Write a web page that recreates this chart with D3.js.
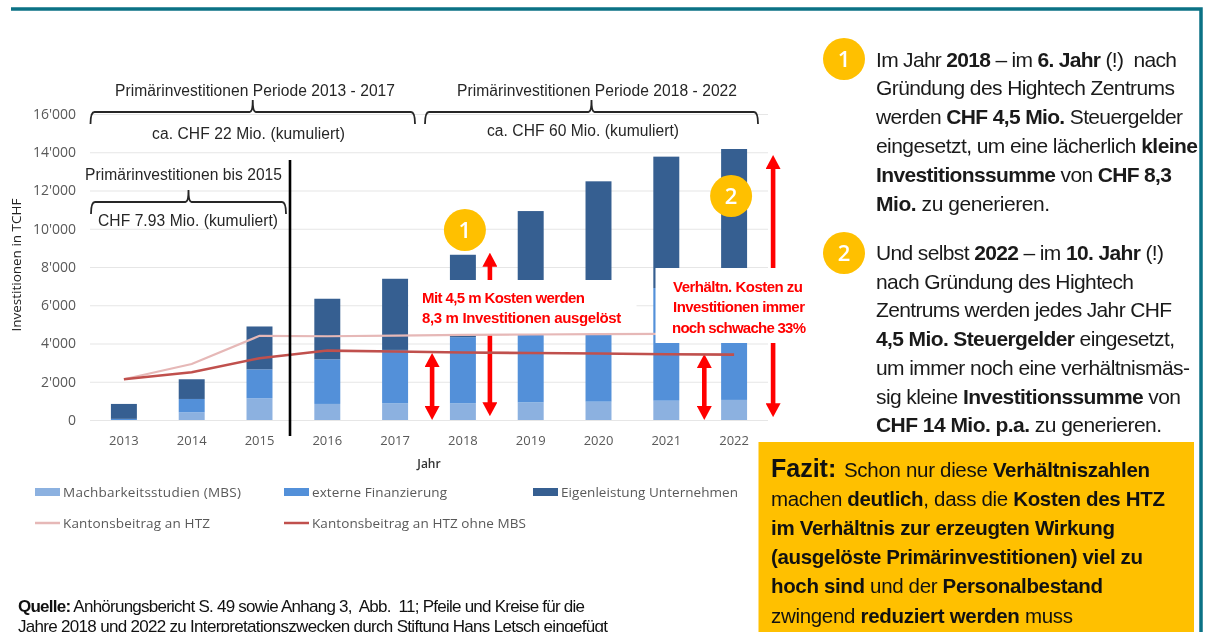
<!DOCTYPE html>
<html>
<head>
<meta charset="utf-8">
<script src="https://cdn.jsdelivr.net/npm/d3@7"></script>
<style>
  html, body { margin: 0; padding: 0; background: #fff; overflow: hidden; }
  svg { display: block; filter: blur(0.4px); }
  text { font-family: "Liberation Sans", Arial, sans-serif; }
  .tick text, .chart-label { font-family: "Open Sans", sans-serif; }
</style>
</head>
<body>
<svg width="1208" height="632"></svg>
<script>
const years = [2013, 2014, 2015, 2016, 2017, 2018, 2019, 2020, 2021, 2022]
const machbarkeit = [0, 400, 1135, 840, 870, 870, 925, 960, 1010, 1050]
const extern = [60, 700, 1515, 2335, 2795, 3460, 4600, 5300, 5890, 6100]
const eigenleistung = [780, 1030, 2240, 3165, 3720, 4310, 5400, 6220, 6870, 7020]
const kanton = [2130, 2930, 4400, 4380, 4415, 4450, 4470, 4490, 4500, 4500]
const kantonOhneMbs = [2130, 2500, 3230, 3630, 3580, 3530, 3500, 3480, 3440, 3420]
const yTicks = [0, 2000, 4000, 6000, 8000, 10000, 12000, 14000, 16000]

const stackKeys = ['Machbarkeitsstudien (MBS)', 'externe Finanzierung', 'Eigenleistung Unternehmen']
const stackColors = ['#8CB1E0', '#5390D9', '#365F91']
const lineKeys = ['Kantonsbeitrag an HTZ', 'Kantonsbeitrag an HTZ ohne MBS']
const lineColors = ['#E6B8B7', '#C0504D']

// right hand text, each line is a list of [text, bold]
const block1 = [
  [['Im Jahr ', 0], ['2018', 1], [' – im ', 0], ['6. Jahr', 1], [' (!)  nach', 0]],
  [['Gründung des Hightech Zentrums', 0]],
  [['werden ', 0], ['CHF 4,5 Mio.', 1], [' Steuergelder', 0]],
  [['eingesetzt, um eine lächerlich ', 0], ['kleine', 1]],
  [['Investitionssumme', 1], [' von ', 0], ['CHF 8,3', 1]],
  [['Mio.', 1], [' zu generieren.', 0]]
]
const block1Ends = [1177, 1175, 1183, 1198, 1172, 1050]
const block2 = [
  [['Und selbst ', 0], ['2022', 1], [' – im ', 0], ['10. Jahr', 1], [' (!)', 0]],
  [['nach Gründung des Hightech', 0]],
  [['Zentrums werden jedes Jahr CHF', 0]],
  [['4,5 Mio. Steuergelder', 1], [' eingesetzt,', 0]],
  [['um immer noch eine verhältnismäs-', 0]],
  [['sig kleine ', 0], ['Investitionssumme', 1], [' von', 0]],
  [['CHF 14 Mio. p.a.', 1], [' zu generieren.', 0]]
]
const block2Ends = [1164, 1134, 1172, 1175, 1190, 1181, 1162]
const fazit = [
  [['Schon nur diese ', 0], ['Verhältniszahlen', 1]],
  [['machen ', 0], ['deutlich', 1], [', dass die ', 0], ['Kosten des HTZ', 1]],
  [['im Verhältnis zur erzeugten Wirkung', 1]],
  [['(ausgelöste Primärinvestitionen) viel zu', 1]],
  [['hoch sind', 1], [' und der ', 0], ['Personalbestand', 1]],
  [['zwingend ', 0], ['reduziert werden', 1], [' muss', 0]]
]
const fazitEnds = [1150, 1165, 1115, 1143, 1103, 1073]
const quelle = [
  [['Quelle:', 1], [' Anhörungsbericht S. 49 sowie Anhang 3,  Abb.  11; Pfeile und Kreise für die', 0]],
  [['Jahre 2018 und 2022 zu Interpretationszwecken durch Stiftung Hans Letsch eingefügt', 0]]
]

const svg = d3.select('svg')

const margin = { top: 114, left: 90, right: 440, bottom: 212 }
const width = +svg.attr('width')
const height = +svg.attr('height')

const xScale = d3.scaleBand()
  .domain(years)
  .range([margin.left, width - margin.right])
  .paddingInner(0.617)
  .paddingOuter(0.3085)

const yScale = d3.scaleLinear()
  .domain([0, 16000])
  .range([height - margin.bottom, margin.top])

const xMid = d => xScale(d) + xScale.bandwidth() / 2
const yFormat = d3.formatLocale({ decimal: '.', thousands: "'", grouping: [3], currency: ['', ''] }).format(',d')

// frame
svg.append('path')
  .attr('d', 'M11,9 H1201 V632')
  .attr('fill', 'none')
  .attr('stroke', '#0B7285')
  .attr('stroke-width', 3.5)

// axes
const yAxis = d3.axisLeft(yScale)
  .tickValues(yTicks)
  .tickFormat(yFormat)
  .tickSize(-(width - margin.left - margin.right))
  .tickPadding(14)

const yAxisGroup = svg.append('g')
  .attr('transform', `translate(${margin.left},0)`)
  .call(yAxis)
yAxisGroup.select('.domain').remove()
yAxisGroup.selectAll('.tick line').attr('stroke', '#E6E6E6').attr('stroke-width', 1.2)
yAxisGroup.selectAll('.tick text').attr('font-size', 14).attr('fill', '#595959')

const xAxisGroup = svg.append('g')
  .attr('transform', `translate(0,${yScale(0)})`)
  .call(d3.axisBottom(xScale).tickSize(0).tickPadding(16))
xAxisGroup.select('.domain').remove()
xAxisGroup.selectAll('.tick text').attr('font-size', 13).attr('fill', '#595959')

svg.append('text')
  .attr('class', 'chart-label')
  .attr('transform', `translate(21,${yScale(8100)}) rotate(-90)`)
  .attr('text-anchor', 'middle')
  .attr('font-size', 13.5)
  .attr('fill', '#222')
  .text('Investitionen in TCHF')

svg.append('text')
  .attr('class', 'chart-label')
  .attr('x', 429)
  .attr('y', 468)
  .attr('text-anchor', 'middle')
  .attr('font-size', 12)
  .attr('font-weight', 600)
  .attr('fill', '#333')
  .text('Jahr')

// stacked bars
const rows = years.map((year, i) => ({
  year,
  [stackKeys[0]]: machbarkeit[i],
  [stackKeys[1]]: extern[i],
  [stackKeys[2]]: eigenleistung[i]
}))
const series = d3.stack().keys(stackKeys)(rows)

svg.append('g').selectAll('g').data(series)
  .enter().append('g')
  .attr('fill', (d, i) => stackColors[i])
  .selectAll('rect').data(d => d)
  .enter().append('rect')
  .attr('x', d => xScale(d.data.year))
  .attr('y', d => yScale(d[1]))
  .attr('width', xScale.bandwidth())
  .attr('height', d => yScale(d[0]) - yScale(d[1]))

// red arrows
svg.append('defs').append('marker')
  .attr('id', 'head')
  .attr('viewBox', '0 0 14 15')
  .attr('refX', 2)
  .attr('refY', 7.5)
  .attr('markerWidth', 14)
  .attr('markerHeight', 15)
  .attr('markerUnits', 'userSpaceOnUse')
  .attr('orient', 'auto-start-reverse')
  .append('path')
  .attr('d', 'M0,0 L14,7.5 L0,15 Z')
  .attr('fill', '#FF0000')

const arrows = [
  { x: xMid(2017) + 37, from: 0, to: 3500 },
  { x: xMid(2018) + 27, from: 200, to: 8750 },
  { x: xMid(2021) + 38, from: 0, to: 3450 },
  { x: xMid(2022) + 39, from: 150, to: 13850 }
]
svg.append('g').selectAll('line').data(arrows)
  .enter().append('line')
  .attr('x1', d => d.x)
  .attr('x2', d => d.x)
  .attr('y1', d => yScale(d.from) - 12)
  .attr('y2', d => yScale(d.to) + 12)
  .attr('stroke', '#FF0000')
  .attr('stroke-width', 4.6)
  .attr('marker-start', 'url(#head)')
  .attr('marker-end', 'url(#head)')

// box over the bars for the first note
svg.append('rect').attr('x', 408.5).attr('y', 280).attr('width', 228).attr('height', 55).attr('fill', '#fff')

// lines
const lineGen = d3.line().x((d, i) => xMid(years[i])).y(d => yScale(d))
svg.append('g').selectAll('path').data([kanton, kantonOhneMbs])
  .enter().append('path')
  .attr('d', lineGen)
  .attr('fill', 'none')
  .attr('stroke', (d, i) => lineColors[i])
  .attr('stroke-width', (d, i) => i ? 2.6 : 2.2)

// second note box
svg.append('rect').attr('x', 655.5).attr('y', 268).attr('width', 153).attr('height', 75).attr('fill', '#fff')

// stretch or squeeze a text to the width
const fit = (sel, startX, endX) => {
  sel.each(function () {
    const chars = this.textContent.length
    const now = this.getComputedTextLength()
    d3.select(this).style('letter-spacing', `${(endX - startX - now) / (chars - 1)}px`)
  })
}

const plainText = (label, x0, x1, y, size, color, weight) => {
  const t = svg.append('text')
    .attr('x', x0)
    .attr('y', y)
    .attr('font-size', size)
    .attr('font-weight', weight || 400)
    .attr('fill', color)
    .text(label)
  fit(t, x0, x1)
}

const richLine = (parts, x0, x1, y, size, color) => {
  const t = svg.append('text')
    .attr('x', x0)
    .attr('y', y)
    .attr('font-size', size)
    .attr('fill', color)
    .style('white-space', 'pre')
  parts.forEach(p => {
    t.append('tspan').attr('font-weight', p[1] ? 700 : 400).text(p[0])
  })
  fit(t, x0, x1)
}

// brackets and their labels
const bracket = (x0, x1, y) => {
  const xm = (x0 + x1) / 2
  svg.append('path')
    .attr('d', `M${x0},${y + 12} Q${x0},${y} ${x0 + 4},${y} H${xm - 3} Q${xm},${y} ${xm},${y - 12} Q${xm},${y} ${xm + 3},${y} H${x1 - 4} Q${x1},${y} ${x1},${y + 12}`)
    .attr('fill', 'none')
    .attr('stroke', '#262626')
    .attr('stroke-width', 1.8)
}
bracket(90.5, 415, 112)
bracket(425, 758, 112)
bracket(91, 286, 202)

plainText('Primärinvestitionen Periode 2013 - 2017', 115, 395, 96, 15.6, '#262626')
plainText('Primärinvestitionen Periode 2018 - 2022', 457, 737, 96, 15.6, '#262626')
plainText('ca. CHF 22 Mio. (kumuliert)', 152, 345, 139, 15.6, '#262626')
plainText('ca. CHF 60 Mio. (kumuliert)', 487, 679, 136, 15.6, '#262626')
plainText('Primärinvestitionen bis 2015', 85, 282, 180, 15.6, '#262626')
plainText('CHF 7.93 Mio. (kumuliert)', 98, 278, 226, 15.6, '#262626')

// divider between 2015 and 2016
svg.append('line')
  .attr('x1', 290).attr('x2', 290)
  .attr('y1', 160).attr('y2', 436)
  .attr('stroke', '#000')
  .attr('stroke-width', 2.6)

// red notes
plainText('Mit 4,5 m Kosten werden', 422, 585, 303, 15, '#FF0000', 700)
plainText('8,3 m  Investitionen ausgelöst', 422, 621, 323, 15, '#FF0000', 700)
plainText('Verhältn. Kosten zu', 673, 803, 292, 15, '#FF0000', 700)
plainText('Investitionen immer', 673, 805, 312, 15, '#FF0000', 700)
plainText('noch schwache 33%', 672, 806, 333, 15, '#FF0000', 700)

// numbered circles
const badge = (cx, cy, label) => {
  svg.append('circle').attr('cx', cx).attr('cy', cy).attr('r', 21).attr('fill', '#FFC000')
  svg.append('text')
    .attr('class', 'chart-label')
    .attr('x', cx)
    .attr('y', cy + 8)
    .attr('text-anchor', 'middle')
    .attr('font-size', 22)
    .attr('font-weight', 600)
    .attr('fill', '#fff')
    .text(label)
}
badge(xMid(2018) + 2, 230, '1')
badge(xMid(2022) - 3, 196, '2')
badge(844, 59, '1')
badge(844, 253, '2')

// legend
const legendX = [35, 284, 533]
const legendEnds = [241, 447, 738]
stackKeys.forEach((key, i) => {
  svg.append('rect')
    .attr('x', legendX[i]).attr('y', 488)
    .attr('width', 25).attr('height', 8)
    .attr('fill', stackColors[i])
  const t = svg.append('text')
    .attr('class', 'chart-label')
    .attr('x', legendX[i] + 28).attr('y', 497)
    .attr('font-size', 13.5).attr('fill', '#595959')
    .text(key)
  fit(t, legendX[i] + 28, legendEnds[i])
})
const lineLegendEnds = [210, 526]
lineKeys.forEach((key, i) => {
  svg.append('line')
    .attr('x1', legendX[i]).attr('x2', legendX[i] + 25)
    .attr('y1', 523).attr('y2', 523)
    .attr('stroke', lineColors[i])
    .attr('stroke-width', 2.5)
  const t = svg.append('text')
    .attr('class', 'chart-label')
    .attr('x', legendX[i] + 28).attr('y', 528)
    .attr('font-size', 13.5).attr('fill', '#595959')
    .text(key)
  fit(t, legendX[i] + 28, lineLegendEnds[i])
})

// right hand explanation
block1.forEach((parts, i) => richLine(parts, 876, block1Ends[i], 66.5 + i * 28.9, 21, '#1a1a1a'))
block2.forEach((parts, i) => richLine(parts, 876, block2Ends[i], 260 + i * 28.7, 21, '#1a1a1a'))

// Fazit box
svg.append('rect')
  .attr('x', 758.5).attr('y', 442)
  .attr('width', 435.5).attr('height', 190)
  .attr('fill', '#FFC000')

svg.append('text')
  .attr('x', 771).attr('y', 477)
  .attr('font-size', 25)
  .attr('font-weight', 700)
  .attr('fill', '#111')
  .text('Fazit:')

fazit.forEach((parts, i) => {
  richLine(parts, i ? 771 : 844, fazitEnds[i], 476.5 + i * 29.2, 20.5, '#111')
})

// source
richLine(quelle[0], 18, 585, 612, 17, '#111')
richLine(quelle[1], 18, 608, 632, 17, '#111')
</script>
</body>
</html>
